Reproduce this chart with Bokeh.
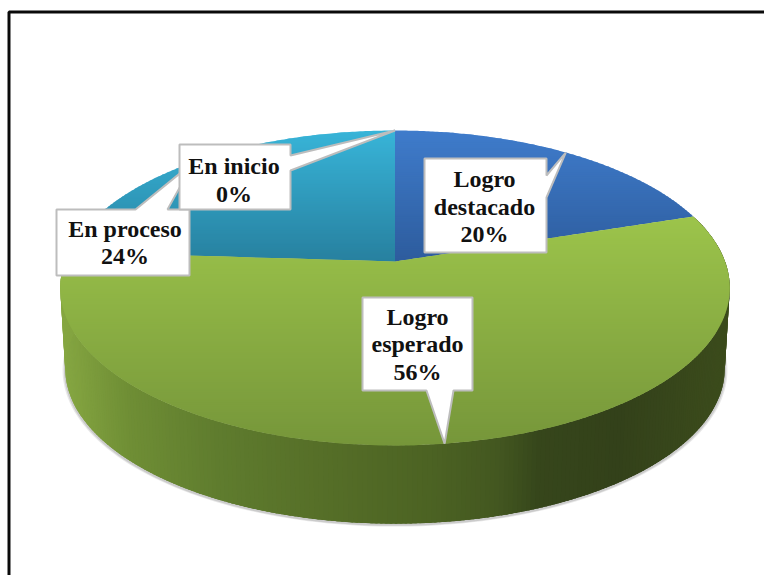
import numpy as np
from bokeh.plotting import figure
from bokeh.embed import file_html
from bokeh.resources import INLINE
from bokeh.core.properties import value

# ---- data -------------------------------------------------------------
categories = ["Logro destacado", "Logro esperado", "En proceso", "En inicio"]
values = [20, 56, 24, 0]
wrapped = [["Logro", "destacado"], ["Logro", "esperado"], ["En proceso"], ["En inicio"]]

# ---- layout / style ---------------------------------------------------
W, H = 764, 575
CX, CY, RX_K, RY_K, PERSP = 394.5, 261.0, 330.0, 153.0, 0.168
DEPTH, BOTTOM_SCALE = 81.0, 0.985
slice_grad = {
    "Logro destacado": ((130, "#3f7ccb"), (261, "#2d5c9d")),
    "Logro esperado": ((216, "#9cc44b"), (445, "#76963a")),
    "En proceso": ((130, "#38b4d8"), (261, "#27809f")),
    "En inicio": ((130, "#38b4d8"), (261, "#27809f")),
}
side_stops_x = [62, 130, 220, 320, 430, 500, 540, 620, 730]
side_stops_c = ["#86a742", "#6f8e35", "#5f7c2e", "#566f28", "#4c6323", "#435720", "#36461b", "#33411a", "#3c4c1c"]
# callout boxes: left, top, right, bottom
boxes = {
    "En proceso": (56, 209, 189, 275),
    "En inicio": (179, 144, 290, 209),
    "Logro destacado": (424, 158, 546, 252),
    "Logro esperado": (362, 297, 472, 390),
}
text_nudge = {"En proceso": (2, 0), "En inicio": (-1, 3), "Logro destacado": (-1, 1), "Logro esperado": (0, 0)}
LINE_H = 27.5


def hex2rgb(h):
    return np.array([int(h[i:i + 2], 16) for i in (1, 3, 5)], dtype=float)


def rgb2hex(c):
    return "#%02x%02x%02x" % tuple(int(round(float(v))) for v in c)


def lerp_color(a, b, t):
    return rgb2hex(hex2rgb(a) * (1 - t) + hex2rgb(b) * t)


def project(theta, scale=1.0, dy=0.0):
    u, v = np.sin(theta), np.cos(theta)
    d = 1 + PERSP * v
    return CX + scale * RX_K * u / d, CY + dy + scale * RY_K * (-v) / d


def clip(poly, y0, keep_below):
    out = []
    n = len(poly)
    for i in range(n):
        a, b = poly[i], poly[(i + 1) % n]
        ina = a[1] >= y0 if keep_below else a[1] <= y0
        inb = b[1] >= y0 if keep_below else b[1] <= y0
        if ina:
            out.append(a)
        if ina != inb:
            t = (y0 - a[1]) / (b[1] - a[1])
            out.append((a[0] + t * (b[0] - a[0]), y0))
    return out


p = figure(width=W, height=H, x_range=(0, W), y_range=(H, 0),
           output_backend="svg", toolbar_location=None, min_border=0, outline_line_color=None,
           background_fill_color="white", border_fill_color="white")
p.axis.visible = False
p.grid.visible = False

# slice angles from the values
fracs = np.array(values, dtype=float) / sum(values) * 2 * np.pi
ends = np.cumsum(fracs)
starts = ends - fracs

# soft shadow under the body
th_all = np.linspace(0, 2 * np.pi, 240)
for s, a in ((0.993, 0.18), (0.989, 0.28)):
    sx, sy = project(th_all, s, DEPTH + 1.5)
    p.patch(sx, sy, fill_color="#808080", fill_alpha=a, line_color=None)

# side wall (front part belongs to the second slice)
i_front = categories.index("Logro esperado")
ths = np.linspace(starts[i_front], ends[i_front], 280)
overlap = (ths[1] - ths[0]) * 1.5
xs, ys, cols = [], [], []
sr = [tuple(hex2rgb(c)) for c in side_stops_c]
for a, b in zip(ths[:-1], ths[1:]):
    b2 = min(b + overlap, ths[-1])
    xa, ya = project(a)
    xb, yb = project(b2)
    xc, yc = project(b2, BOTTOM_SCALE, DEPTH)
    xd, yd = project(a, BOTTOM_SCALE, DEPTH)
    xs.append([xa, xb, xc, xd])
    ys.append([ya, yb, yc, yd])
    xm = (xa + xd) / 2
    cols.append(rgb2hex([np.interp(xm, side_stops_x, [c[k] for c in sr]) for k in range(3)]))
p.patches(xs, ys, fill_color=cols, line_color=None)

# top faces with a vertical gradient
order = [categories.index("En proceso"), categories.index("Logro destacado"), categories.index("Logro esperado")]
for i in order:
    if fracs[i] == 0:
        continue
    th = np.linspace(starts[i], ends[i], 160)
    ex, ey = project(th)
    poly = [(CX, CY)] + list(zip(ex.tolist(), ey.tolist()))
    (y0, c0), (y1, c1) = slice_grad[categories[i]]
    ymin, ymax = min(q[1] for q in poly), max(q[1] for q in poly)
    bands = np.arange(np.floor(ymin), ymax + 2, 2.0)
    bx, by, bc = [], [], []
    for a, b in zip(bands[:-1], bands[1:]):
        part = clip(clip(poly, float(a), True), float(b) + 1.0, False)
        if len(part) < 3:
            continue
        bx.append([q[0] for q in part])
        by.append([q[1] for q in part])
        t = min(1.0, max(0.0, ((a + b) / 2 - y0) / (y1 - y0)))
        bc.append(lerp_color(c0, c1, t))
    p.patches(bx, by, fill_color=bc, line_color=None)

# frame: left and top edges only, as in the source picture
p.line([8.5, 8.5, W], [H, 11.5, 11.5], line_color="#0a0a0a", line_width=3)


# callouts: the tip sits on the rim at the middle of each slice
def callout(name, side, b0, b1):
    i = categories.index(name)
    tx, ty = project((starts[i] + ends[i]) / 2)
    l, t, r, bt = boxes[name]
    if side == "top":
        pts = [(l, t), (b0, t), (tx, ty), (b1, t), (r, t), (r, bt), (l, bt)]
    elif side == "right":
        pts = [(l, t), (r, t), (r, b0), (tx, ty), (r, b1), (r, bt), (l, bt)]
    else:
        pts = [(l, t), (r, t), (r, bt), (b1, bt), (tx, ty), (b0, bt), (l, bt)]
    p.patch([q[0] for q in pts], [q[1] for q in pts], fill_color="white",
            line_color="#bdbdbd", line_width=2)


callout("En proceso", "top", 135, 167)
callout("En inicio", "right", 155, 170)
callout("Logro destacado", "right", 175, 197)
callout("Logro esperado", "bottom", 426, 453)

# label texts
tx, ty, tt = [], [], []
for name, lines, v in zip(categories, wrapped, values):
    l, t, r, bt = boxes[name]
    dx, dy = text_nudge[name]
    full = lines + [f"{v}%"]
    mid = (t + bt) / 2
    for k, s in enumerate(full):
        tx.append((l + r) / 2 + dx)
        ty.append(mid + dy + (k - (len(full) - 1) / 2) * LINE_H)
        tt.append(s)
p.text(tx, ty, text=tt, text_font=value("Liberation Serif"), text_font_style="bold",
       text_font_size="24px", text_color="#111111", text_align="center", text_baseline="middle")

open("out.html", "w").write(file_html(p, INLINE))
